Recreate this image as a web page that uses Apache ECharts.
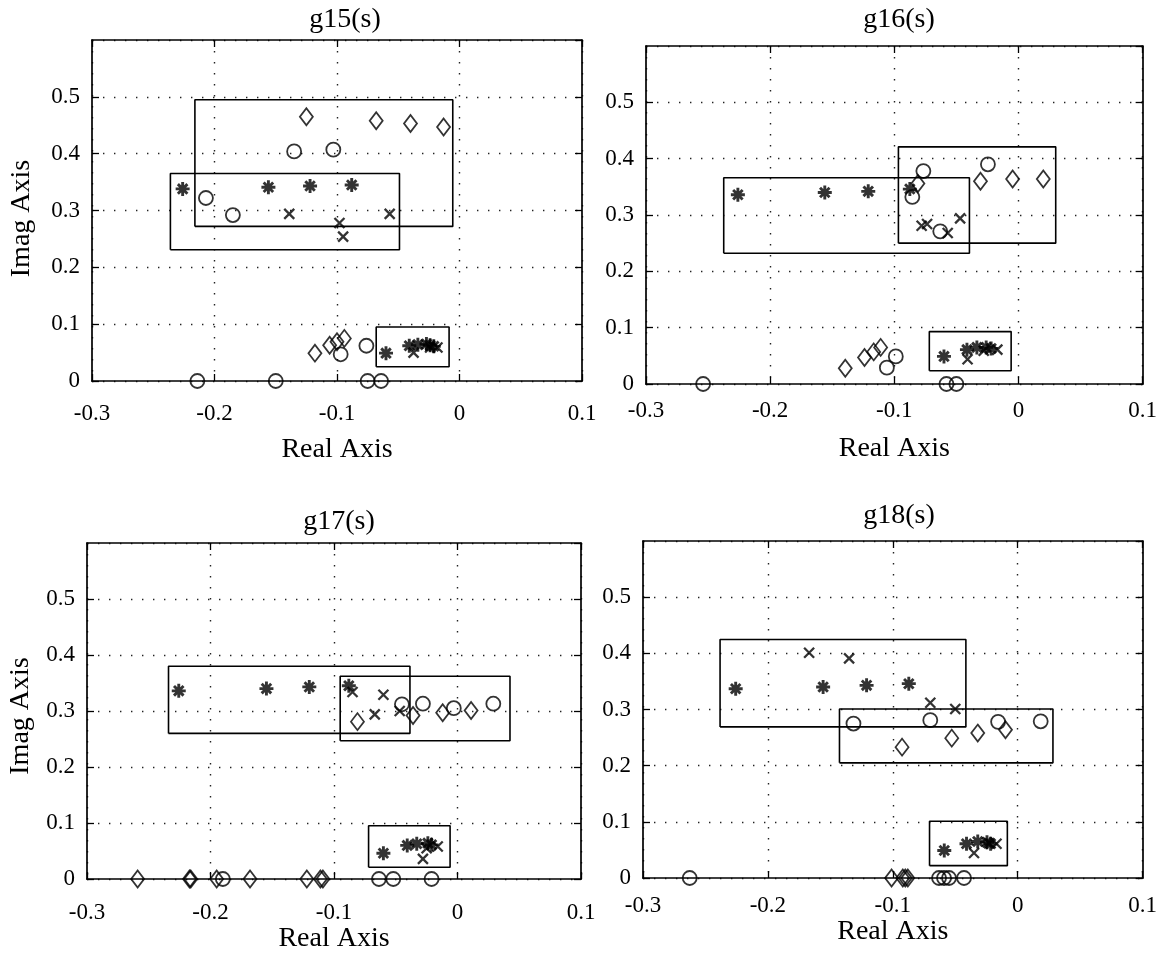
<!DOCTYPE html>
<html>
<head>
<meta charset="utf-8">
<script src="https://cdn.jsdelivr.net/npm/echarts@6/dist/echarts.min.js"></script>
<style>
  html, body { margin: 0; padding: 0; background: #fff; }
  #chart { width: 1160px; height: 966px; }
</style>
</head>
<body>
<div id="chart"></div>
<script>
// Panel titles and shared axis ticks
const titles = ['g15(s)', 'g16(s)', 'g17(s)', 'g18(s)'];
const xTicks = [-0.3, -0.2, -0.1, 0, 0.1];
const yTicks = [0, 0.1, 0.2, 0.3, 0.4, 0.5];
const yMax = 0.6;

// g15(s) poles, grouped by marker; boxes are [xMin, xMax, yMin, yMax]
const g15Star = [[-0.226,0.338],[-0.156,0.341],[-0.122,0.343],[-0.088,0.345],[-0.060,0.049],[-0.041,0.062],[-0.034,0.064],[-0.027,0.065],[-0.024,0.063],[-0.021,0.061]];
const g15Cross = [[-0.139,0.294],[-0.098,0.278],[-0.095,0.254],[-0.057,0.294],[-0.0375,0.050],[-0.024,0.059],[-0.018,0.059]];
const g15Circle = [[-0.135,0.404],[-0.103,0.407],[-0.207,0.322],[-0.185,0.292],[-0.076,0.062],[-0.097,0.047],[-0.214,0],[-0.150,0],[-0.075,0],[-0.064,0]];
const g15Diamond = [[-0.125,0.465],[-0.068,0.458],[-0.040,0.453],[-0.013,0.447],[-0.118,0.049],[-0.106,0.063],[-0.100,0.069],[-0.094,0.075]];
const g15Boxes = [[-0.216,-0.0055,0.272,0.495],[-0.236,-0.049,0.231,0.365],[-0.068,-0.0085,0.025,0.095]];

// g16(s)
const g16Star = [[-0.226,0.336],[-0.156,0.340],[-0.121,0.342],[-0.0875,0.346],[-0.060,0.049],[-0.0415,0.061],[-0.0335,0.065],[-0.026,0.065],[-0.022,0.063]];
const g16Cross = [[-0.078,0.281],[-0.0736,0.284],[-0.057,0.268],[-0.047,0.294],[-0.041,0.044],[-0.028,0.059],[-0.017,0.061]];
const g16Circle = [[-0.0766,0.378],[-0.0855,0.332],[-0.063,0.271],[-0.0246,0.390],[-0.0988,0.049],[-0.106,0.029],[-0.254,0],[-0.058,0],[-0.050,0]];
const g16Diamond = [[-0.081,0.356],[-0.0306,0.360],[-0.0047,0.364],[0.020,0.364],[-0.1395,0.028],[-0.124,0.047],[-0.1166,0.057],[-0.111,0.065]];
const g16Boxes = [[-0.2374,-0.0395,0.232,0.366],[-0.0967,0.030,0.250,0.421],[-0.0718,-0.0059,0.0235,0.093]];

// g17(s)
const g17Star = [[-0.2257,0.336],[-0.1547,0.340],[-0.120,0.343],[-0.088,0.345],[-0.060,0.046],[-0.0407,0.060],[-0.033,0.063],[-0.024,0.064],[-0.021,0.061]];
const g17Cross = [[-0.085,0.334],[-0.060,0.329],[-0.067,0.294],[-0.0468,0.300],[-0.028,0.036],[-0.025,0.055],[-0.016,0.058]];
const g17Circle = [[-0.045,0.312],[-0.028,0.313],[-0.003,0.305],[0.029,0.313],[-0.190,0],[-0.0636,0],[-0.052,0],[-0.021,0]];
const g17Diamond = [[-0.081,0.281],[-0.036,0.292],[-0.012,0.297],[0.011,0.301],[-0.259,0],[-0.217,0],[-0.216,0],[-0.195,0],[-0.168,0],[-0.122,0],[-0.111,0],[-0.109,0]];
const g17Boxes = [[-0.234,-0.0385,0.260,0.380],[-0.095,0.0425,0.247,0.362],[-0.072,-0.006,0.021,0.095]];

// g18(s)
const g18Star = [[-0.2258,0.337],[-0.1558,0.340],[-0.121,0.343],[-0.0872,0.346],[-0.0588,0.049],[-0.041,0.061],[-0.032,0.065],[-0.0246,0.0635],[-0.0217,0.061]];
const g18Cross = [[-0.167,0.401],[-0.135,0.391],[-0.070,0.312],[-0.050,0.301],[-0.035,0.0445],[-0.023,0.062],[-0.017,0.061]];
const g18Circle = [[-0.1315,0.275],[-0.070,0.281],[-0.0157,0.278],[0.0184,0.279],[-0.2626,0],[-0.063,0],[-0.059,0],[-0.055,0],[-0.043,0]];
const g18Diamond = [[-0.0926,0.233],[-0.0528,0.249],[-0.032,0.258],[-0.0098,0.264],[-0.101,0],[-0.092,0],[-0.090,0],[-0.088,0]];
const g18Boxes = [[-0.2383,-0.0415,0.269,0.4246],[-0.1427,0.0282,0.205,0.301],[-0.0706,-0.0083,0.022,0.101]];

const panels = [
  { star: g15Star, cross: g15Cross, circle: g15Circle, diamond: g15Diamond, boxes: g15Boxes },
  { star: g16Star, cross: g16Cross, circle: g16Circle, diamond: g16Diamond, boxes: g16Boxes },
  { star: g17Star, cross: g17Cross, circle: g17Circle, diamond: g17Diamond, boxes: g17Boxes },
  { star: g18Star, cross: g18Cross, circle: g18Circle, diamond: g18Diamond, boxes: g18Boxes }
];

// Layout of the four panels (pixels)
const grids = [
  { left: 92,  top: 40,  width: 490, height: 341 },
  { left: 646, top: 46,  width: 497, height: 338 },
  { left: 87,  top: 543, width: 494, height: 336 },
  { left: 643, top: 541, width: 502, height: 337 }
];
const titlePos = [[345, 20], [899, 20], [339, 522], [899, 516]];
const realGap = [55, 51, 43, 37];
const tickMargin = [21, 15, 22, 16];
const imagGap = [56, 0, 52, 0];
const imagShift = [16, 0, 10, 0];
const showImag = [true, false, true, false];

const FONT = '"Liberation Serif", "Times New Roman", serif';
const ASTERISK = 'path://M5,0L5,10M0,5L10,5M1.6,1.6L8.4,8.4M8.4,1.6L1.6,8.4';
const CROSS = 'path://M0,0L10,10M10,0L0,10';

const fmt = v => String(Math.round(v * 10) / 10);
const dotted = { color: '#222', width: 1.4, type: [1.4, 9.6] };
const boxLine = { show: true, onZero: false, lineStyle: { color: '#000', width: 1.7 } };
const innerTick = { show: true, inside: true, length: 7, lineStyle: { color: '#000', width: 1.3 } };

const option = {
  backgroundColor: '#fff',
  animation: false,
  grid: grids.map(g => Object.assign({ containLabel: false }, g)),
  xAxis: [],
  yAxis: [],
  series: [],
  graphic: titles.map((t, i) => ({
    type: 'text', x: titlePos[i][0], y: titlePos[i][1], silent: true,
    style: { text: t, fill: '#000', font: '28px ' + FONT, align: 'center', verticalAlign: 'middle' }
  }))
};

grids.forEach((g, i) => {
  const xBase = { gridIndex: i, type: 'value', min: xTicks[0], max: xTicks[xTicks.length - 1], interval: 0.1 };
  const yBase = { gridIndex: i, type: 'value', min: yTicks[0], max: yMax, interval: 0.1 };
  // bottom axis with labels and the dotted vertical grid
  option.xAxis.push(Object.assign({}, xBase, {
    position: 'bottom',
    name: 'Real Axis', nameLocation: 'middle', nameGap: realGap[i],
    nameTextStyle: { fontFamily: FONT, fontSize: 28, color: '#000' },
    axisLine: boxLine,
    axisTick: innerTick,
    axisLabel: { fontFamily: FONT, fontSize: 23, color: '#000', margin: tickMargin[i], formatter: fmt },
    splitLine: { show: true, lineStyle: dotted }
  }));
  // top edge of the box
  option.xAxis.push(Object.assign({}, xBase, {
    position: 'top',
    axisLine: boxLine,
    axisTick: innerTick,
    axisLabel: { show: false },
    splitLine: { show: false }
  }));
  // left axis with labels and the dotted horizontal grid
  option.yAxis.push(Object.assign({}, yBase, {
    position: 'left',
    name: showImag[i] ? 'Imag Axis' : '', nameLocation: 'middle', nameGap: imagGap[i],
    nameTextStyle: { fontFamily: FONT, fontSize: 28, color: '#000', padding: [0, imagShift[i], 0, 0] },
    axisLine: boxLine,
    axisTick: innerTick,
    axisLabel: { fontFamily: FONT, fontSize: 23, color: '#000', margin: 12, formatter: fmt, showMaxLabel: false },
    splitLine: { show: true, lineStyle: dotted }
  }));
  // right edge of the box
  option.yAxis.push(Object.assign({}, yBase, {
    position: 'right',
    axisLine: boxLine,
    axisTick: innerTick,
    axisLabel: { show: false },
    splitLine: { show: false }
  }));

  const xi = i * 2, yi = i * 2;
  const p = panels[i];

  // rectangular pole regions
  p.boxes.forEach(b => {
    option.series.push({
      type: 'line', xAxisIndex: xi, yAxisIndex: yi, silent: true,
      showSymbol: false, symbol: 'none', z: 2,
      lineStyle: { color: '#000', width: 1.6 },
      data: [[b[0], b[2]], [b[1], b[2]], [b[1], b[3]], [b[0], b[3]], [b[0], b[2]]]
    });
  });

  const hollow = { color: 'rgba(0,0,0,0)', borderColor: '#000', borderWidth: 1.8 };
  option.series.push(
    { type: 'scatter', xAxisIndex: xi, yAxisIndex: yi, z: 3, clip: false, silent: true,
      symbol: 'circle', symbolSize: 14, itemStyle: hollow, data: p.circle },
    { type: 'scatter', xAxisIndex: xi, yAxisIndex: yi, z: 3, clip: false, silent: true,
      symbol: 'diamond', symbolSize: [13, 17], itemStyle: hollow, data: p.diamond },
    { type: 'scatter', xAxisIndex: xi, yAxisIndex: yi, z: 4, clip: false, silent: true,
      symbol: CROSS, symbolSize: 10, itemStyle: { color: '#000', borderColor: '#000', borderWidth: 2.3 }, data: p.cross },
    { type: 'scatter', xAxisIndex: xi, yAxisIndex: yi, z: 4, clip: false, silent: true,
      symbol: ASTERISK, symbolSize: 14, itemStyle: { color: '#000', borderColor: '#000', borderWidth: 2.9 }, data: p.star }
  );
});

const chart = echarts.init(document.getElementById('chart'), null, { renderer: 'canvas' });
chart.setOption(option);
</script>
</body>
</html>
